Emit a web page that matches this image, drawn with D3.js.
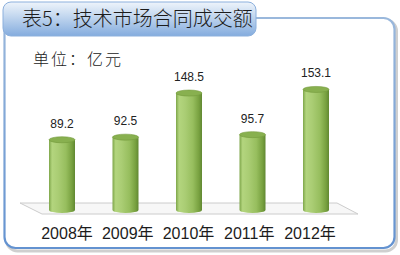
<!DOCTYPE html>
<html>
<head>
<meta charset="utf-8">
<script src="https://cdn.jsdelivr.net/npm/d3@7"></script>
<style>
  body { margin: 0; background: #fff; }
  svg { display: block; }
</style>
</head>
<body>
<div id="chart"></div>
<script>
const years = ["2008年", "2009年", "2010年", "2011年", "2012年"];
const values = [89.2, 92.5, 148.5, 95.7, 153.1];
const titleText = "表5：技术市场合同成交额";
const unitText = "单位：亿元";

const width = 400, height = 255;

const svg = d3.select("#chart").append("svg")
    .attr("width", width)
    .attr("height", height);

const defs = svg.append("defs");

// green cylinder body
const bodyGrad = defs.append("linearGradient").attr("id", "body")
    .attr("x1", "0%").attr("x2", "100%").attr("y1", "0%").attr("y2", "0%");
[["0%", "#7ea64a"], ["12%", "#b3d57e"], ["35%", "#aacd74"], ["65%", "#97be5e"], ["88%", "#78a140"], ["100%", "#618832"]]
  .forEach(s => bodyGrad.append("stop").attr("offset", s[0]).attr("stop-color", s[1]));

// title tab
const tabGrad = defs.append("linearGradient").attr("id", "tab")
    .attr("x1", "0%").attr("x2", "0%").attr("y1", "0%").attr("y2", "100%");
[["0%", "#eef4fb"], ["35%", "#cadcf1"], ["100%", "#84acde"]]
  .forEach(s => tabGrad.append("stop").attr("offset", s[0]).attr("stop-color", s[1]));

const frameGrad = defs.append("linearGradient").attr("id", "frame")
    .attr("x1", "0%").attr("x2", "0%").attr("y1", "0%").attr("y2", "100%");
[["0%", "#9ab8dc"], ["100%", "#6392d0"]]
  .forEach(s => frameGrad.append("stop").attr("offset", s[0]).attr("stop-color", s[1]));

// frame + shadow
svg.append("rect")
    .attr("x", 6.5).attr("y", 20).attr("width", 390).attr("height", 231).attr("rx", 11)
    .attr("fill", "none").attr("stroke", "#cfcfcf").attr("stroke-width", 3);
svg.append("rect")
    .attr("x", 4.5).attr("y", 18).attr("width", 390).attr("height", 230).attr("rx", 11)
    .attr("fill", "#fff").attr("stroke", "url(#frame)").attr("stroke-width", 2.2);

// title tab
svg.append("rect")
    .attr("x", 3).attr("y", 2).attr("width", 253).attr("height", 34).attr("rx", 8)
    .attr("fill", "url(#tab)").attr("stroke", "#8cb0dd").attr("stroke-width", 1);
svg.append("text")
    .attr("x", 22).attr("y", 26)
    .attr("font-family", "Noto Sans CJK SC")
    .attr("font-weight", 300)
    .attr("font-size", 20)
    .attr("fill", "#1c1c1c")
    .text(titleText);

svg.append("text")
    .attr("x", 33).attr("y", 65)
    .attr("font-family", "Noto Sans CJK SC")
    .attr("font-weight", 300)
    .attr("font-size", 16)
    .attr("letter-spacing", 2)
    .attr("fill", "#222")
    .text(unitText);

// scales
const x = d3.scalePoint().domain(years).range([62, 316]);
const xLabel = d3.scalePoint().domain(years).range([67, 310]);
const y = d3.scaleLinear().domain([0, 160]).range([210, 84]);
const barW = 26, ry = 3;

// floor
const y0 = y(0);
const floorPts = [
  [x(years[0]) - 42, y0 - 7],
  [x(years[years.length - 1]) + 21, y0 - 7],
  [x(years[years.length - 1]) + 42, y0 + 4],
  [x(years[0]) - 20, y0 + 4]
];
svg.append("polygon")
    .attr("points", floorPts.map(p => p.join(",")).join(" "))
    .attr("fill", "#f7f7f7")
    .attr("stroke", "#cccccc")
    .attr("stroke-width", 1);

// cylinders
const bars = svg.append("g").selectAll("g")
  .data(years.map((d, i) => ({ year: d, value: values[i] })))
  .join("g");

bars.append("path")
    .attr("d", d => {
      const l = x(d.year) - barW / 2, r = x(d.year) + barW / 2;
      const t = y(d.value), b = y0;
      return `M${l},${t} L${l},${b} A${barW / 2},${ry} 0 0 0 ${r},${b} L${r},${t} Z`;
    })
    .attr("fill", "url(#body)");

bars.append("ellipse")
    .attr("cx", d => x(d.year))
    .attr("cy", d => y(d.value))
    .attr("rx", barW / 2)
    .attr("ry", ry)
    .attr("fill", "#88b04f")
    .attr("stroke", "#739a3c")
    .attr("stroke-width", 0.6);

bars.append("text")
    .attr("x", d => x(d.year))
    .attr("y", d => y(d.value) - 12)
    .attr("text-anchor", "middle")
    .attr("font-family", "Liberation Sans, Noto Sans CJK SC")
    .attr("font-size", 12)
    .attr("fill", "#222")
    .text(d => d.value.toFixed(1));

// category labels
svg.append("g").selectAll("text")
  .data(years)
  .join("text")
    .attr("x", d => xLabel(d))
    .attr("y", 239)
    .attr("text-anchor", "middle")
    .attr("font-family", "Liberation Sans, Noto Sans CJK SC")
    .attr("font-size", 16)
    .attr("fill", "#1c1c1c")
    .text(d => d);
</script>
</body>
</html>
